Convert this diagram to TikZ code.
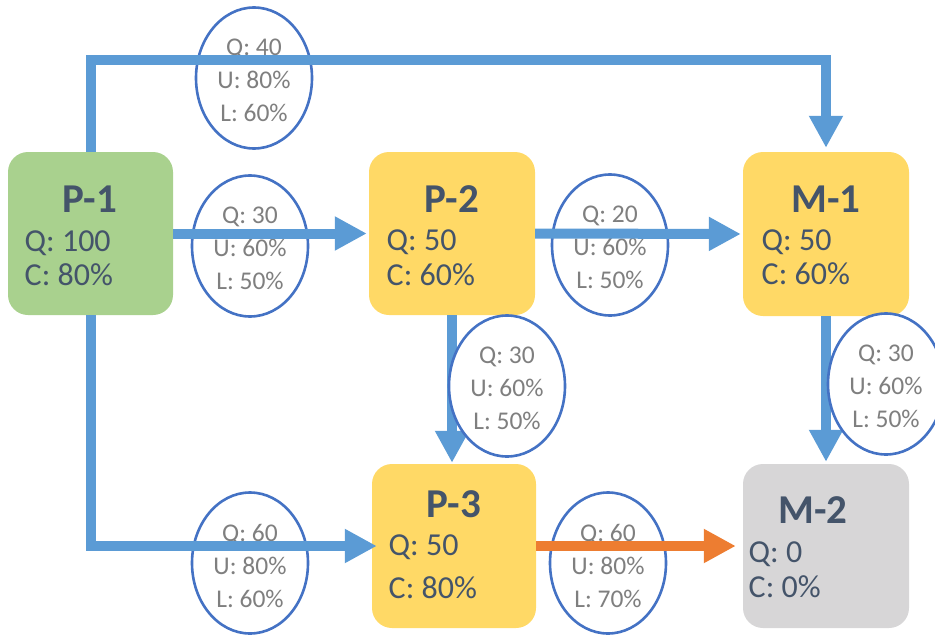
\documentclass[tikz,border=0pt]{standalone}
\usepackage{fontspec}
\setmainfont{Carlito}
\usetikzlibrary{arrows.meta,shapes.geometric}
\definecolor{flowblue}{HTML}{5B9BD5}
\definecolor{floworange}{HTML}{ED7D31}
\definecolor{ellblue}{HTML}{4472C4}
\definecolor{darktext}{HTML}{44546A}
\definecolor{greytext}{HTML}{7F7F7F}
\definecolor{boxgreen}{HTML}{A9D18E}
\definecolor{boxyellow}{HTML}{FFD966}
\definecolor{boxgrey}{HTML}{D7D6D7}
\tikzset{
  unitbox/.style={rectangle,rounded corners=20pt,draw=none,inner sep=0pt},
  titletext/.style={anchor=base,inner sep=0pt,text=darktext,font=\fontsize{41}{41}\selectfont\bfseries},
  bodytext/.style={anchor=base west,inner sep=0pt,text=darktext,font=\fontsize{32}{32}\selectfont},
  tag/.style={ellipse,draw=ellblue,line width=2.6pt,fill=white,minimum width=116pt,minimum height=141pt,inner sep=0pt},
  tagtext/.style={inner sep=0pt,align=center,text=greytext,font=\fontsize{25.5}{33}\selectfont,yshift=-2.5pt},
  flow/.style={draw=flowblue,line width=10pt,line join=miter,-{Triangle[length=32pt,width=32pt]}},
  floworg/.style={draw=floworange,line width=10pt,-{Triangle[length=32pt,width=32pt]}}
}
\begin{document}
\begin{tikzpicture}[x=1pt,y=-1pt]
\useasboundingbox (0,0) rectangle (935,637);
% boxes
\node[unitbox,fill=boxgreen,minimum width=165pt,minimum height=163pt] (p1) at (90.5,233.5) {};
\node[unitbox,fill=boxyellow,minimum width=166pt,minimum height=163pt] (p2) at (452,233.5) {};
\node[unitbox,fill=boxyellow,minimum width=164pt,minimum height=164pt] (p3) at (454,546) {};
\node[unitbox,fill=boxyellow,minimum width=166pt,minimum height=164pt] (m1) at (826,234) {};
\node[unitbox,fill=boxgrey,minimum width=166pt,minimum height=164pt] (m2) at (826,546) {};
% box texts
\node[titletext] (p1t) at (90,212) {P-1};
\node[bodytext] (p1q) at (24.5,251) {Q: 100};
\node[bodytext] (p1c) at (24.5,285) {C: 80\%};
\node[titletext] (p2t) at (452,212) {P-2};
\node[bodytext] (p2q) at (386.5,250) {Q: 50};
\node[bodytext] (p2c) at (386.5,285) {C: 60\%};
\node[titletext] (p3t) at (454,517) {P-3};
\node[bodytext] (p3q) at (388.5,555) {Q: 50};
\node[bodytext] (p3c) at (388.5,598) {C: 80\%};
\node[titletext] (m1t) at (826,212) {M-1};
\node[bodytext] (m1q) at (761.5,250) {Q: 50};
\node[bodytext] (m1c) at (761.5,284) {C: 60\%};
\node[titletext] (m2t) at (813,523) {M-2};
\node[bodytext] (m2q) at (748.5,562) {Q: 0};
\node[bodytext] (m2c) at (748.5,597) {C: 0\%};
% vertical arrows (under the ellipses)
\draw[flow,shorten >=1pt] (p2.south) -- (p2.south |- p3.north);
\draw[flow,shorten >=2pt] (m1.south) -- (m2.north);
% ellipses
\node[tag] (e1) at (254,78) {};
\node[tag] (e2) at (250,246) {};
\node[tag] (e3) at (610,245) {};
\node[tag] (e4) at (507,386) {};
\node[tag] (e5) at (608,563) {};
\node[tag] (e6) at (886,384) {};
\node[tag] (e7) at (250,563) {};
\node[tagtext] (e1t) at (e1) {Q: 40\\U: 80\%\\L: 60\%};
\node[tagtext] (e2t) at (e2) {Q: 30\\U: 60\%\\L: 50\%};
\node[tagtext] (e3t) at (e3) {Q: 20\\U: 60\%\\L: 50\%};
\node[tagtext] (e4t) at (e4) {Q: 30\\U: 60\%\\L: 50\%};
\node[tagtext] (e5t) at (e5) {Q: 60\\U: 80\%\\L: 70\%};
\node[tagtext] (e6t) at (e6) {Q: 30\\U: 60\%\\L: 50\%};
\node[tagtext] (e7t) at (e7) {Q: 60\\U: 80\%\\L: 60\%};
% other arrows (over the ellipses)
\coordinate (c1) at (90.5,60);
\coordinate (c2) at (826,60);
\draw[flow,shorten >=4pt] (p1.north) -- (c1) -- (c2) -- (m1.north);
\draw[flow,shorten >=2pt] (p1.east) -- (p2.west);
\draw[flow,shorten >=2pt] (p2.east) -- (m1.west);
\draw[flow,shorten >=-5pt] (p1.south) |- (p3.west);
\draw[floworg,shorten >=7pt] (p3.east) -- (m2.west);
\end{tikzpicture}
\end{document}
